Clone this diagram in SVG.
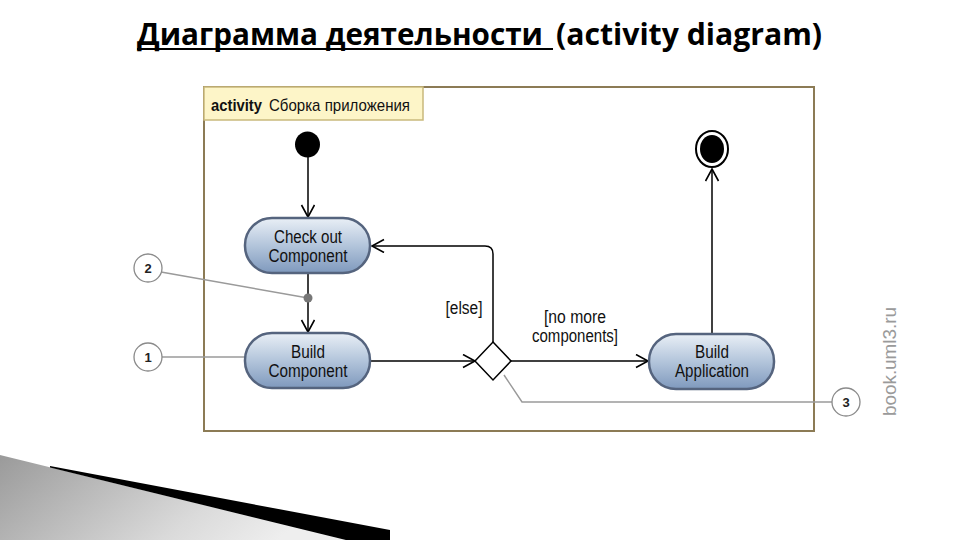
<svg xmlns="http://www.w3.org/2000/svg" width="960" height="540" viewBox="0 0 960 540">
<defs>
<linearGradient id="act" x1="0" y1="0" x2="0" y2="1">
<stop offset="0" stop-color="#e9eff6"/>
<stop offset="0.5" stop-color="#b3c5db"/>
<stop offset="1" stop-color="#7f99bd"/>
</linearGradient>
<linearGradient id="wedge" x1="0" y1="0" x2="1" y2="0.3">
<stop offset="0" stop-color="#9a9a9a"/>
<stop offset="0.7" stop-color="#dadada"/>
<stop offset="1" stop-color="#eeeeee"/>
</linearGradient>
<marker id="arr" markerUnits="userSpaceOnUse" markerWidth="16" markerHeight="16" refX="13" refY="7" orient="auto">
<path d="M1,0.5 L13,7 L1,13.5" fill="none" stroke="#000" stroke-width="1.6"/>
</marker>
<style>
.title{font-family:"Open Sans","DejaVu Sans",sans-serif;font-weight:bold;font-size:30px;fill:#000}
.lbl{font-family:"Liberation Sans",Arial,sans-serif;font-size:18px;fill:#111;text-anchor:middle}
.hdr{font-family:"Liberation Sans",Arial,sans-serif;font-size:17px;fill:#111}
.act{fill:url(#act);stroke:#55647e;stroke-width:2.5}
.flow{fill:none;stroke:#000;stroke-width:1.5;marker-end:url(#arr)}
.call{fill:none;stroke:#9a9a9a;stroke-width:1.5}
.cc{fill:#fff;stroke:#8a8a8a;stroke-width:1.3}
.cn{font-family:"Liberation Sans",Arial,sans-serif;font-size:13px;font-weight:bold;fill:#222;text-anchor:middle}
</style>
</defs>
<rect width="960" height="540" fill="#fff"/>
<g id="title">
<text class="title" x="137" y="45" textLength="406" lengthAdjust="spacingAndGlyphs">Диаграмма деятельности</text>
<line x1="137" y1="49" x2="553" y2="49" stroke="#000" stroke-width="2"/>
<text class="title" x="556" y="45" textLength="266" lengthAdjust="spacingAndGlyphs">(activity diagram)</text>
</g>
<g id="decoration">
<polygon points="0,455 350,541 0,541" fill="url(#wedge)"/>
<polygon points="50,466 390,530 390,541 350,541 50,467.5" fill="#000"/>
</g>
<g id="frame">
<rect x="204" y="87" width="610" height="344" fill="#fff" stroke="#8c7b55" stroke-width="2"/>
<rect x="204" y="87" width="219" height="33" fill="#fdf5c8" stroke="#c9b97c" stroke-width="1.5"/>
<text class="hdr" x="211" y="111" font-weight="bold" textLength="51" lengthAdjust="spacingAndGlyphs">activity</text>
<text class="hdr" x="269" y="111" textLength="141" lengthAdjust="spacingAndGlyphs">Сборка приложения</text>
</g>
<g id="watermark">
<text x="0" y="0" transform="translate(896,416) rotate(-90)" font-family="Liberation Sans,Arial,sans-serif" font-size="19" fill="#9a9a9a" textLength="109" lengthAdjust="spacingAndGlyphs">book.uml3.ru</text>
</g>
<g id="connectors">
<line class="flow" x1="308" y1="157" x2="308" y2="217"/>
<line class="flow" x1="308" y1="274" x2="308" y2="332"/>
<line class="flow" x1="371" y1="361" x2="475" y2="361"/>
<line class="flow" x1="511" y1="361" x2="648" y2="361"/>
<line class="flow" x1="712" y1="333" x2="712" y2="169"/>
<path class="flow" d="M493,342 V254 Q493,246 485,246 H372"/>
<polyline class="call" points="161,272 308,298"/>
<line class="call" x1="162" y1="357" x2="245" y2="357"/>
<polyline class="call" points="832,402 522,402 504,375"/>
<circle cx="308" cy="298" r="4.5" fill="#777"/>
</g>
<g id="initial">
<ellipse cx="307.5" cy="144.5" rx="12.5" ry="13" fill="#000"/>
</g>
<g id="final">
<ellipse cx="712" cy="149" rx="16" ry="18" fill="#fff" stroke="#000" stroke-width="2"/>
<ellipse cx="712" cy="149" rx="12" ry="14" fill="#000"/>
</g>
<g id="checkout">
<rect class="act" x="245" y="218" width="125" height="55" rx="27"/>
<text class="lbl" x="308" y="243" textLength="68" lengthAdjust="spacingAndGlyphs">Check out</text>
<text class="lbl" x="308" y="262" textLength="79" lengthAdjust="spacingAndGlyphs">Component</text>
</g>
<g id="buildcomponent">
<rect class="act" x="245" y="333" width="125" height="55" rx="27"/>
<text class="lbl" x="308" y="358" textLength="34" lengthAdjust="spacingAndGlyphs">Build</text>
<text class="lbl" x="308" y="377" textLength="79" lengthAdjust="spacingAndGlyphs">Component</text>
</g>
<g id="decision">
<polygon points="493,342 511,361 493,380 475,361" fill="#fff" stroke="#000" stroke-width="1.5"/>
</g>
<g id="buildapplication">
<rect class="act" x="649" y="334" width="125" height="55" rx="27"/>
<text class="lbl" x="712" y="358" textLength="34" lengthAdjust="spacingAndGlyphs">Build</text>
<text class="lbl" x="712" y="377" textLength="74" lengthAdjust="spacingAndGlyphs">Application</text>
</g>
<g id="guards">
<text class="lbl" x="464" y="314" textLength="37" lengthAdjust="spacingAndGlyphs">[else]</text>
<text class="lbl" x="575" y="323" textLength="62" lengthAdjust="spacingAndGlyphs">[no more</text>
<text class="lbl" x="575" y="342" textLength="86" lengthAdjust="spacingAndGlyphs">components]</text>
</g>
<g id="callout2">
<circle class="cc" cx="148" cy="268" r="14"/>
<text class="cn" x="148" y="273">2</text>
</g>
<g id="callout1">
<circle class="cc" cx="148" cy="357" r="14"/>
<text class="cn" x="148" y="362">1</text>
</g>
<g id="callout3">
<circle class="cc" cx="846" cy="402" r="14"/>
<text class="cn" x="846" y="407" font-weight="normal">3</text>
</g>
</svg>
